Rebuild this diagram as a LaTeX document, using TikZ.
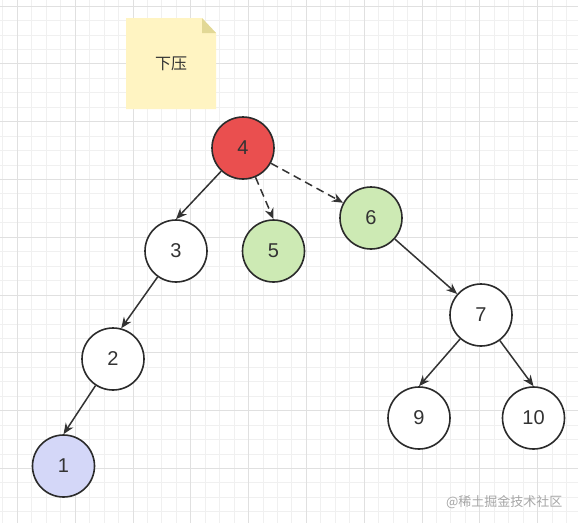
\documentclass[tikz,border=0pt]{standalone}
\usepackage{fontspec}
\setmainfont{Liberation Sans}
\newfontfamily\cjk{Noto Sans CJK SC}
\usepackage{tikz}
\usetikzlibrary{arrows.meta, positioning}

\definecolor{nodeRed}{HTML}{EA4F4F}
\definecolor{nodeGreen}{HTML}{CDEAB4}
\definecolor{nodeBlue}{HTML}{D4D7F8}
\definecolor{noteFill}{HTML}{FFF4C2}
\definecolor{noteFold}{HTML}{E2D896}
\definecolor{gridMinor}{HTML}{F0F0F0}
\definecolor{gridMajor}{HTML}{E0E0E0}
\definecolor{lineDark}{HTML}{2B2B2B}
\definecolor{textDark}{HTML}{333333}

\begin{document}
\begin{tikzpicture}[
    x=1pt, y=-1pt,
    on grid,
    tree_node/.style={circle, draw=lineDark, line width=1.6pt, fill=white, minimum size=62pt, inner sep=0pt, text=textDark, font=\fontsize{20}{20}\selectfont},
    tree_edge/.style={-{Stealth[length=11pt, width=9pt]}, line width=1.5pt, draw=textDark},
    push_edge/.style={tree_edge, dash pattern=on 8pt off 5pt},
    note_text/.style={text=textDark, font=\cjk\fontsize{16}{16}\selectfont},
    watermark/.style={anchor=east, text=black!35, font=\cjk\fontsize{13}{13}\selectfont}
    ]
    % Background grid
    \fill[white] (0,0) rectangle (578,523);
    \useasboundingbox (0,0) rectangle (578,523);
    \foreach \i in {0,...,39} {
        \draw[gridMinor, line width=0.8pt] ({2.85+14.45*\i},0) -- ++(0,523);
    }
    \foreach \j in {0,...,35} {
        \draw[gridMinor, line width=0.8pt] (0,{6+14.45*\j}) -- ++(578,0);
    }
    \foreach \i in {0,...,9} {
        \draw[gridMajor, line width=0.8pt] ({17.3+57.8*\i},0) -- ++(0,523);
    }
    \foreach \j in {0,...,8} {
        \draw[gridMajor, line width=0.8pt] (0,{6+57.8*\j}) -- ++(578,0);
    }

    % Sticky note
    \fill[noteFill] (126,18) -- (202,18) -- (216,33) -- (216,109) -- (126,109) -- cycle;
    \fill[noteFold] (202,18) -- (216,33) -- (202,33) -- cycle;
    \node[note_text] (note) at (171,64) {下压};

    % Nodes
    \node[tree_node, fill=nodeRed] (n4) at (243,148) {4};
    \node[tree_node] (n3) [below left=103pt and 67pt of n4] {3};
    \node[tree_node, fill=nodeGreen] (n5) [below right=103pt and 30.5pt of n4] {5};
    \node[tree_node, fill=nodeGreen] (n6) [below right=70pt and 128pt of n4] {6};
    \node[tree_node] (n2) [below left=108pt and 63pt of n3] {2};
    \node[tree_node, fill=nodeBlue] (n1) [below left=107pt and 49.5pt of n2] {1};
    \node[tree_node] (n7) [below right=97pt and 110pt of n6] {7};
    \node[tree_node] (n9) [below left=103pt and 62pt of n7] {9};
    \node[tree_node] (n10) [below right=103pt and 52.5pt of n7] {10};

    % Arrows
    \draw[tree_edge] (n4) -- (n3.north);
    \draw[push_edge] (n4) -- (n5.north);
    \draw[push_edge] (n4) -- (n6);
    \draw[tree_edge] (n3) -- (n2.75);
    \draw[tree_edge] (n2) -- (n1.north);
    \draw[tree_edge] (n6) -- (n7);
    \draw[tree_edge] (n7) -- (n9.north);
    \draw[tree_edge] (n7) -- (n10.north);

    % Watermark
    \node[watermark] (mark) at (566,502) {@稀土掘金技术社区};
\end{tikzpicture}
\end{document}
